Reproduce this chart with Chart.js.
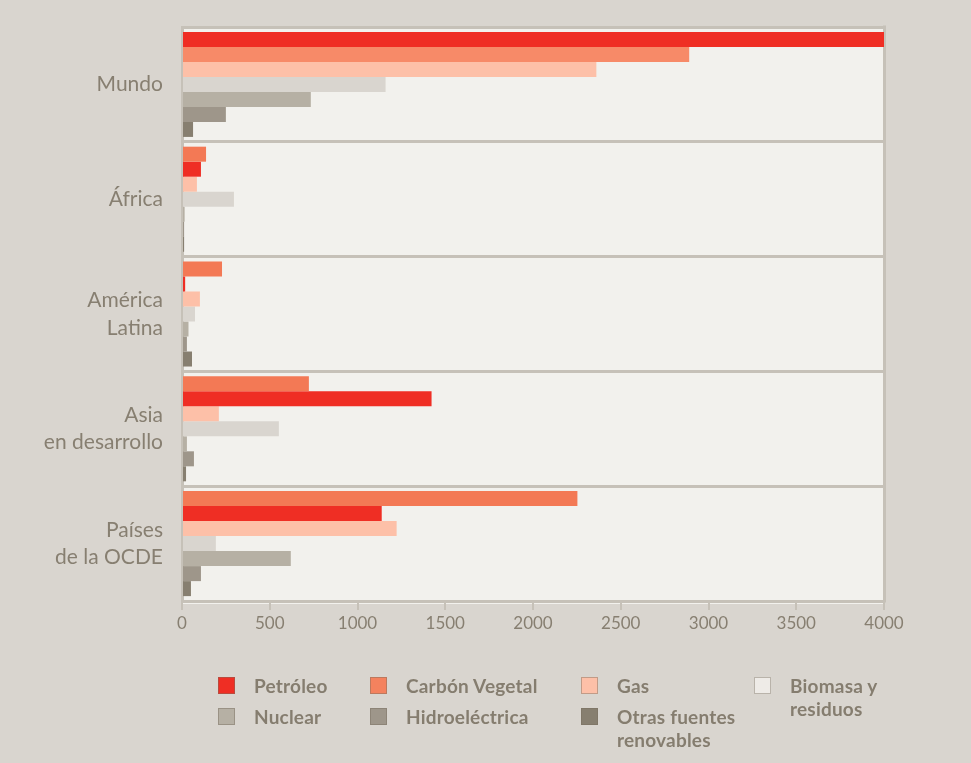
<!DOCTYPE html>
<html>
<head>
<meta charset="utf-8">
<script src="https://cdn.jsdelivr.net/npm/chart.js@4.4.1/dist/chart.umd.min.js"></script>
<style>
  html, body { margin: 0; padding: 0; background: #d9d5cf; }
  #wrap { position: relative; width: 971px; height: 763px; overflow: hidden; }
  #chart { position: absolute; left: 0; top: 0; }
  .leg { position: absolute; font-family: Lato, "Open Sans", sans-serif; font-weight: 700;
         font-size: 19px; letter-spacing: 0.2px; color: #857d6f; line-height: 23px; }
  .leg .sw { position: absolute; left: 0; top: 1px; width: 17px; height: 17px; box-sizing: border-box;
             border: 1px solid rgba(120,110,95,0.45); }
  .leg .tx { position: absolute; left: 36px; top: -2px; white-space: nowrap; }
</style>
</head>
<body>
<div id="wrap">
  <canvas id="chart" width="971" height="763"></canvas>
  <div id="legend"></div>
</div>
<script>
// categories and values (Mtep)
const categories = ['Mundo', 'África', ['América', 'Latina'], ['Asia', 'en desarrollo'], ['Países', 'de la OCDE']];
const seriesNames = ['Petróleo', 'Carbón Vegetal', 'Gas', 'Biomasa y residuos', 'Nuclear', 'Hidroeléctrica', 'Otras fuentes renovables'];
const petroleo = [4000, 137, 228, 723, 2253];
const carbon   = [2890, 108, 18, 1422, 1138];
const gas      = [2361, 85, 102, 210, 1223];
const biomasa  = [1160, 296, 74, 552, 193];
const nuclear  = [734, 15, 37, 28, 620];
const hidro    = [250, 12, 28, 68, 108];
const otras    = [63, 12, 57, 23, 51];
const xTicks   = [0, 500, 1000, 1500, 2000, 2500, 3000, 3500, 4000];

// colours (the original swaps red/orange outside "Mundo")
const RED = '#ef2e24', ORANGE = '#f37955', ORANGE_LIGHT = '#f78a68';
const colors = [
  [RED, ORANGE, ORANGE, ORANGE, ORANGE],
  [ORANGE_LIGHT, RED, RED, RED, RED],
  '#fdc0a8', '#d9d5cf', '#b6b0a4', '#9e968a', '#877f70'
];
const legendColors = [RED, '#f4825e', '#fdc0a8', '#eeebe7', '#b6b0a4', '#9e968a', '#877f70'];

const allData = [petroleo, carbon, gas, biomasa, nuclear, hidro, otras];
const GRID = '#c6c1b8';
const TEXT = '#877f71';

// plot background + thin right frame, drawn under the bars
const plotBg = {
  id: 'plotBg',
  beforeDraw(chart) {
    const a = chart.chartArea, ctx = chart.ctx;
    ctx.save();
    ctx.fillStyle = '#f2f1ed';
    ctx.fillRect(a.left, a.top, a.right - a.left, a.bottom - a.top + 3);
    ctx.strokeStyle = GRID;
    ctx.lineWidth = 3;
    ctx.beginPath();
    ctx.moveTo(a.right + 0.5, a.top - 1.5);
    ctx.lineTo(a.right + 0.5, a.bottom + 1.5);
    ctx.stroke();
    ctx.restore();
  }
};

new Chart(document.getElementById('chart'), {
  type: 'bar',
  data: {
    labels: categories,
    datasets: allData.map((d, i) => ({
      label: seriesNames[i],
      data: d,
      backgroundColor: colors[i],
      borderWidth: 0,
      categoryPercentage: 0.915,
      barPercentage: 1
    }))
  },
  options: {
    indexAxis: 'y',
    responsive: false,
    animation: false,
    devicePixelRatio: 1,
    layout: { padding: { top: 27, right: 87, left: 0, bottom: 0 } },
    plugins: { legend: { display: false }, tooltip: { enabled: false } },
    scales: {
      x: {
        min: 0, max: 4000,
        afterBuildTicks(s) { s.ticks = xTicks.map(v => ({ value: v })); },
        afterFit(s) { s.height = 162; s.paddingLeft = 0; s.paddingRight = 0; },
        grid: { drawOnChartArea: false, drawTicks: true, tickLength: 9, color: GRID, lineWidth: 2 },
        border: { display: true, color: GRID, width: 3 },
        ticks: { color: TEXT, font: { family: 'Lato', size: 17 }, padding: 3, maxRotation: 0,
                 callback: v => String(v) }
      },
      y: {
        afterFit(s) { s.width = 182; s.paddingTop = 0; s.paddingBottom = 0; },
        grid: { color: GRID, lineWidth: 3, drawTicks: false },
        border: { display: true, color: GRID, width: 3 },
        ticks: { color: TEXT, font: { family: 'Lato', size: 21, lineHeight: 1.32 }, padding: 19 }
      }
    }
  },
  plugins: [plotBg]
});

// legend laid out like the original (4 columns, 2 rows)
const legendPos = [[218, 676], [370, 676], [581, 676], [754, 676], [218, 707], [370, 707], [581, 707]];
const legendText = ['Petróleo', 'Carbón Vegetal', 'Gas', 'Biomasa y<br>residuos', 'Nuclear', 'Hidroeléctrica', 'Otras fuentes<br>renovables'];
const legendEl = document.getElementById('legend');
legendPos.forEach((p, i) => {
  const d = document.createElement('div');
  d.className = 'leg';
  d.style.left = p[0] + 'px';
  d.style.top = p[1] + 'px';
  d.innerHTML = '<span class="sw" style="background:' + legendColors[i] + '"></span><span class="tx">' + legendText[i] + '</span>';
  legendEl.appendChild(d);
});
</script>
</body>
</html>
